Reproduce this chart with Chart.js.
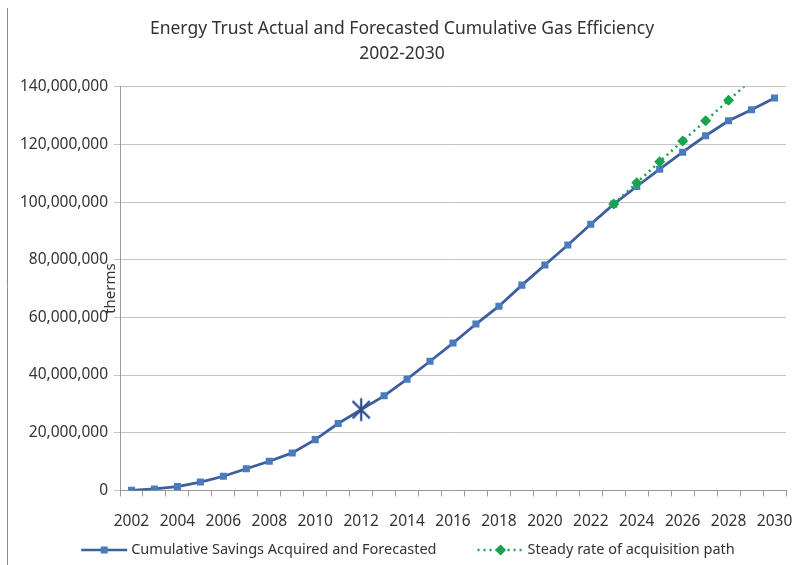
<!DOCTYPE html>
<html>
<head>
<meta charset="utf-8">
<title>Energy Trust Cumulative Gas Efficiency</title>
<script src="https://cdn.jsdelivr.net/npm/chart.js@4.4.1/dist/chart.umd.min.js"></script>
<style>
  body { margin: 0; background: #fff; }
  canvas { display: block; }
</style>
</head>
<body>
<canvas id="gasChart" width="794" height="565"></canvas>
<script>
// data (therms)
const years = ['2002', '2003', '2004', '2005', '2006', '2007', '2008', '2009', '2010', '2011',
  '2012', '2013', '2014', '2015', '2016', '2017', '2018', '2019', '2020', '2021',
  '2022', '2023', '2024', '2025', '2026', '2027', '2028', '2029', '2030'];

const savingsAcquired = [0, 500000, 1300000, 2900000, 4900000, 7500000, 10100000, 13000000,
  17600000, 23200000, 28000000, 32800000, 38600000, 44800000, 51100000, 57700000, 63900000,
  71200000, 78200000, 85100000, 92300000, 99300000, 105400000, 111400000, 117300000,
  123000000, 128200000, 132000000, 136100000];

const steadyPath = [null, null, null, null, null, null, null, null, null, null, null, null,
  null, null, null, null, null, null, null, null, null, 99300000, 106700000, 114000000,
  121200000, 128200000, 135300000, 142400000, null];

const yTicks = [0, 20000000, 40000000, 60000000, 80000000, 100000000, 120000000, 140000000];

const starYear = '2012';

const titleLines = ['Energy Trust Actual and Forecasted Cumulative Gas Efficiency', '2002-2030'];
const legendLabels = ['Cumulative Savings Acquired and Forecasted', 'Steady rate of acquisition path'];

const FONT = '"Noto Sans", "Open Sans", sans-serif';
const blueLine = '#3c5f9d';
const blueMark = '#4a7bbd';
const green = '#17a24b';

// asterisk marker (X plus vertical bar, like the excel star)
function makeAsterisk(size, color) {
  const c = document.createElement('canvas');
  c.width = c.height = size;
  const g = c.getContext('2d');
  const m = size / 2, r = size / 2 - 1.5, d = r * 0.75;
  g.strokeStyle = color;
  g.lineWidth = 2.2;
  g.beginPath();
  g.moveTo(m, m - r); g.lineTo(m, m + r);
  g.moveTo(m - d, m - d); g.lineTo(m + d, m + d);
  g.moveTo(m + d, m - d); g.lineTo(m - d, m + d);
  g.stroke();
  return c;
}
const asterisk = makeAsterisk(26, '#2f4f8c');

const starIdx = years.indexOf(starYear);
const bluePointStyle = years.map((y, i) => (i === starIdx ? asterisk : 'rect'));
const bluePointRadius = years.map((y, i) => (i === starIdx ? 12 : 5));

// legend with line + marker, drawn like the office legend
const lineLegend = {
  id: 'lineLegend',
  afterDraw(chart) {
    const ctx = chart.ctx;
    ctx.save();
    ctx.font = '14.5px ' + FONT;
    const symW = 46, textGap = 4, itemGap = 41;
    const w0 = ctx.measureText(legendLabels[0]).width;
    const w1 = ctx.measureText(legendLabels[1]).width;
    const total = symW + textGap + w0 + itemGap + symW + textGap + w1;
    let x = 408 - total / 2;
    const y = 550;

    // item 1
    ctx.strokeStyle = blueLine;
    ctx.lineWidth = 2.5;
    ctx.beginPath(); ctx.moveTo(x, y); ctx.lineTo(x + symW, y); ctx.stroke();
    ctx.fillStyle = blueMark;
    ctx.fillRect(x + symW / 2 - 3.5, y - 3.5, 7, 7);
    ctx.fillStyle = '#333';
    ctx.textBaseline = 'middle';
    ctx.fillText(legendLabels[0], x + symW + textGap, y);
    x += symW + textGap + w0 + itemGap;

    // item 2
    ctx.strokeStyle = green;
    ctx.setLineDash([2, 4]);
    ctx.beginPath(); ctx.moveTo(x, y); ctx.lineTo(x + symW, y); ctx.stroke();
    ctx.setLineDash([]);
    ctx.fillStyle = green;
    ctx.beginPath();
    ctx.moveTo(x + symW / 2, y - 5.5);
    ctx.lineTo(x + symW / 2 + 5.5, y);
    ctx.lineTo(x + symW / 2, y + 5.5);
    ctx.lineTo(x + symW / 2 - 5.5, y);
    ctx.closePath(); ctx.fill();
    ctx.fillStyle = '#333';
    ctx.fillText(legendLabels[1], x + symW + textGap, y);
    ctx.restore();
  }
};

// "therms" sits between the tick labels and the axis, plus the frame edge on the left
const extras = {
  id: 'extras',
  afterDraw(chart) {
    const ctx = chart.ctx;
    const a = chart.chartArea;
    ctx.save();
    ctx.strokeStyle = '#8c8c8c';
    ctx.lineWidth = 1;
    ctx.beginPath(); ctx.moveTo(7.5, 8); ctx.lineTo(7.5, chart.height); ctx.stroke();

    ctx.translate(a.left - 9, (a.top + a.bottom) / 2);
    ctx.rotate(-Math.PI / 2);
    ctx.font = '15px ' + FONT;
    ctx.fillStyle = '#333';
    ctx.textAlign = 'center';
    ctx.textBaseline = 'middle';
    ctx.fillText('therms', 0, 0);
    ctx.restore();
  }
};

const canvas = document.getElementById('gasChart');
const config = {
  type: 'line',
  data: {
    labels: years,
    datasets: [
      {
        label: legendLabels[0],
        data: savingsAcquired,
        borderColor: blueLine,
        borderWidth: 2.8,
        backgroundColor: blueMark,
        pointBackgroundColor: blueMark,
        pointBorderColor: blueMark,
        pointBorderWidth: 0,
        pointStyle: bluePointStyle,
        pointRadius: bluePointRadius,
        tension: 0,
        order: 1,
      },
      {
        label: legendLabels[1],
        data: steadyPath,
        borderColor: green,
        borderWidth: 2.5,
        borderDash: [2, 4],
        backgroundColor: green,
        pointBackgroundColor: green,
        pointBorderColor: green,
        pointBorderWidth: 0,
        pointStyle: 'rectRot',
        pointRadius: 5.5,
        tension: 0,
        clip: 0,
        order: 0,
      },
    ],
  },
  options: {
    responsive: false,
    animation: false,
    devicePixelRatio: 1,
    layout: { padding: { left: 18, right: 8, top: 0, bottom: 18 } },
    plugins: {
      legend: { display: false },
      tooltip: { enabled: false },
      title: {
        display: true,
        text: titleLines,
        color: '#333',
        font: { family: FONT, size: 17.5, weight: 'normal', lineHeight: 1.45 },
        padding: { top: 16, bottom: 20 },
      },
    },
    scales: {
      x: {
        offset: true,
        afterFit: (s) => { s.paddingLeft = 0; s.paddingRight = 0; },
        grid: { drawOnChartArea: false, offset: true, tickLength: 6, color: '#9a9a9a' },
        border: { color: '#9a9a9a' },
        ticks: {
          autoSkip: false,
          maxRotation: 0,
          padding: 16,
          color: '#333',
          font: { family: FONT, size: 15.5 },
          callback: (v, i) => (i % 2 === 0 ? years[i] : ''),
        },
      },
      y: {
        min: 0,
        max: 140000000,
        afterFit: (s) => { s.width = 102; },
        afterBuildTicks: (s) => { s.ticks = yTicks.map((v) => ({ value: v })); },
        grid: { color: '#c4c4c4', tickLength: 6 },
        border: { color: '#9a9a9a' },
        ticks: {
          padding: 6,
          color: '#333',
          font: { family: FONT, size: 15.5 },
          callback: (v) => v.toLocaleString('en-US'),
        },
      },
    },
  },
  plugins: [lineLegend, extras],
};

const gasChart = new Chart(canvas, config);
</script>
</body>
</html>
